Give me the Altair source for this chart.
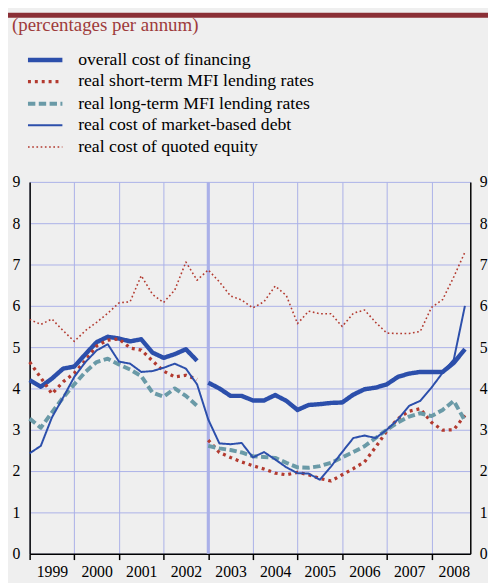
import altair as alt
import pandas as pd

# ---------------- data (quarterly) ----------------
years = list(range(1999, 2009))
quarters = [f"{y}Q{q}" for y in years for q in range(1, 5)]

series_names = [
    "overall cost of financing",
    "real short-term MFI lending rates",
    "real long-term MFI lending rates",
    "real cost of market-based debt",
    "real cost of quoted equity",
]

overall = [4.20, 4.04, 4.24, 4.48, 4.53, 4.83, 5.12, 5.25,
           5.21, 5.14, 5.19, 4.87, 4.74, 4.83, 4.95, 4.67,
           4.14, 4.00, 3.82, 3.82, 3.71, 3.71, 3.84, 3.70,
           3.48, 3.60, 3.62, 3.65, 3.66, 3.85, 3.98, 4.02,
           4.10, 4.28, 4.36, 4.40, 4.40, 4.40, 4.62, 4.95]
short_term = [4.64, 4.26, 3.87, 4.16, 4.37, 4.68, 5.03, 5.17,
              5.20, 4.98, 4.93, 4.67, 4.42, 4.28, 4.32, 4.22,
              2.75, 2.45, 2.33, 2.22, 2.13, 2.05, 1.95, 1.91,
              1.97, 1.91, 1.82, 1.76, 1.91, 2.06, 2.22, 2.58,
              2.97, 3.27, 3.45, 3.51, 3.18, 2.99, 3.00, 3.35]
long_term = [3.27, 3.05, 3.42, 3.78, 4.10, 4.40, 4.64, 4.72,
             4.58, 4.46, 4.30, 3.90, 3.80, 4.00, 3.82, 3.58,
             2.61, 2.55, 2.51, 2.45, 2.36, 2.34, 2.32, 2.20,
             2.09, 2.08, 2.12, 2.20, 2.33, 2.46, 2.60, 2.80,
             3.00, 3.18, 3.32, 3.40, 3.33, 3.48, 3.70, 3.22]
market_debt = [2.43, 2.61, 3.30, 3.78, 4.28, 4.64, 4.92, 5.07,
               4.65, 4.60, 4.40, 4.42, 4.50, 4.60, 4.48, 4.10,
               3.25, 2.67, 2.65, 2.68, 2.33, 2.46, 2.28, 2.09,
               1.95, 1.94, 1.79, 2.11, 2.46, 2.80, 2.86, 2.80,
               3.00, 3.25, 3.58, 3.70, 4.02, 4.38, 4.70, 6.00]
equity = [5.67, 5.55, 5.68, 5.40, 5.14, 5.40, 5.60, 5.82,
          6.07, 6.10, 6.73, 6.28, 6.08, 6.38, 7.06, 6.62,
          6.87, 6.58, 6.24, 6.14, 5.95, 6.10, 6.48, 6.25,
          5.57, 5.87, 5.81, 5.81, 5.50, 5.82, 5.90, 5.60,
          5.34, 5.33, 5.33, 5.38, 5.96, 6.15, 6.70, 7.30]

series_values = [overall, short_term, long_term, market_debt, equity]
has_break = [True, True, True, False, False]   # statistical break in 2003
break_year = 2003
y_ticks = list(range(0, 10))
subtitle = "(percentages per annum)"

# ---------------- styles ----------------
BLUE = "#2c4fab"
RED = "#b33a2f"
TEAL = "#6a9aa7"
GRID = "#aab0e8"
BG = "#efefef"
BAR = "#8a2f36"
FONT = "Liberation Serif"

colors = [BLUE, RED, TEAL, BLUE, RED]
dashes = [[1, 0], [3, 4], [7.5, 3.5], [1, 0], [1.7, 2.6]]
widths = [4.5, 3.3, 4.0, 2.0, 1.6]

rows = []
for name, vals, brk in zip(series_names, series_values, has_break):
    for q, v in zip(quarters, vals):
        yr, qn = int(q[:4]), int(q[-1])
        rows.append({
            "series": name,
            "t": yr + (qn - 1) / 4,
            "value": v,
            "seg": (1 if yr >= break_year else 0) if brk else 0,
        })
df = pd.DataFrame(rows)

xscale = alt.Scale(domain=[1999, 2008.87], nice=False, zero=False)
yscale = alt.Scale(domain=[0, 9], nice=False, zero=True)

xaxis = alt.Axis(values=years, format="d", title=None, labelOffset=22.7,
                 labelFont=FONT, labelFontSize=16, labelColor="black",
                 labelPadding=4, labelOverlap=False, labelBound=False,
                 labelFlush=False, labelAlign="center",
                 tickColor="black", tickSize=6, tickWidth=1.5,
                 domainColor="black", domainWidth=1.5,
                 grid=True, gridColor=GRID, gridWidth=1)
yaxis_left = alt.Axis(values=y_ticks, orient="left", title=None, ticks=False,
                      tickSize=0, labelPadding=10, labelFont=FONT,
                      labelFontSize=16, labelColor="black",
                      domainColor="black", domainWidth=1.5,
                      grid=True, gridColor=GRID, gridWidth=1)
yaxis_right = alt.Axis(values=y_ticks, orient="right", title=None, ticks=False,
                       tickSize=0, labelPadding=9, labelFont=FONT,
                       labelFontSize=16, labelColor="black",
                       domainColor="black", domainWidth=1.5, grid=False)

leg = alt.Legend(orient="none", legendX=1.8, legendY=-138, title=None,
                 symbolType="M-1.55,0L1.55,0", symbolSize=510, labelFont=FONT,
                 labelFontSize=18, labelColor="black", labelOffset=19.5,
                 rowPadding=0, padding=0, labelLimit=400)

lines = alt.Chart(df).mark_line(strokeCap="butt", strokeJoin="round").encode(
    x=alt.X("t:Q", scale=xscale, axis=xaxis),
    y=alt.Y("value:Q", scale=yscale, axis=yaxis_left),
    color=alt.Color("series:N", scale=alt.Scale(domain=series_names, range=colors), legend=leg),
    strokeDash=alt.StrokeDash("series:N", scale=alt.Scale(domain=series_names, range=dashes), legend=leg),
    strokeWidth=alt.StrokeWidth("series:N", scale=alt.Scale(type="ordinal", domain=series_names, range=widths), legend=leg),
    detail="seg:N",
)

brk_df = pd.DataFrame({"t": [break_year], "lo": [0], "hi": [9]})
break_rule = alt.Chart(brk_df).mark_rule(color=GRID, strokeWidth=3).encode(
    x=alt.X("t:Q", scale=xscale, axis=xaxis),
    y=alt.Y("lo:Q", scale=yscale, axis=yaxis_right),
    y2="hi:Q",
)

deco_df = pd.DataFrame({"label": [subtitle]})
top_bar = alt.Chart(deco_df).mark_rect(color=BAR).encode(
    x=alt.value(-22), x2=alt.value(466), y=alt.value(-172), y2=alt.value(-167)
)
sub = alt.Chart(deco_df).mark_text(
    align="left", baseline="alphabetic", font=FONT, fontSize=19.2, color="#9e3b3b"
).encode(text="label:N", x=alt.value(-18), y=alt.value(-153.5))

chart = alt.layer(break_rule, lines, top_bar, sub).resolve_axis(
    y="independent"
).properties(
    width=448, height=378,
    autosize=alt.AutoSizeParams(type="none"),
    padding={"left": 22, "top": 172, "right": 18, "bottom": 25},
    background=BG,
).configure_view(stroke=None, fill=BG)

chart.save("out.html", embed_options={"renderer": "svg", "actions": False})
